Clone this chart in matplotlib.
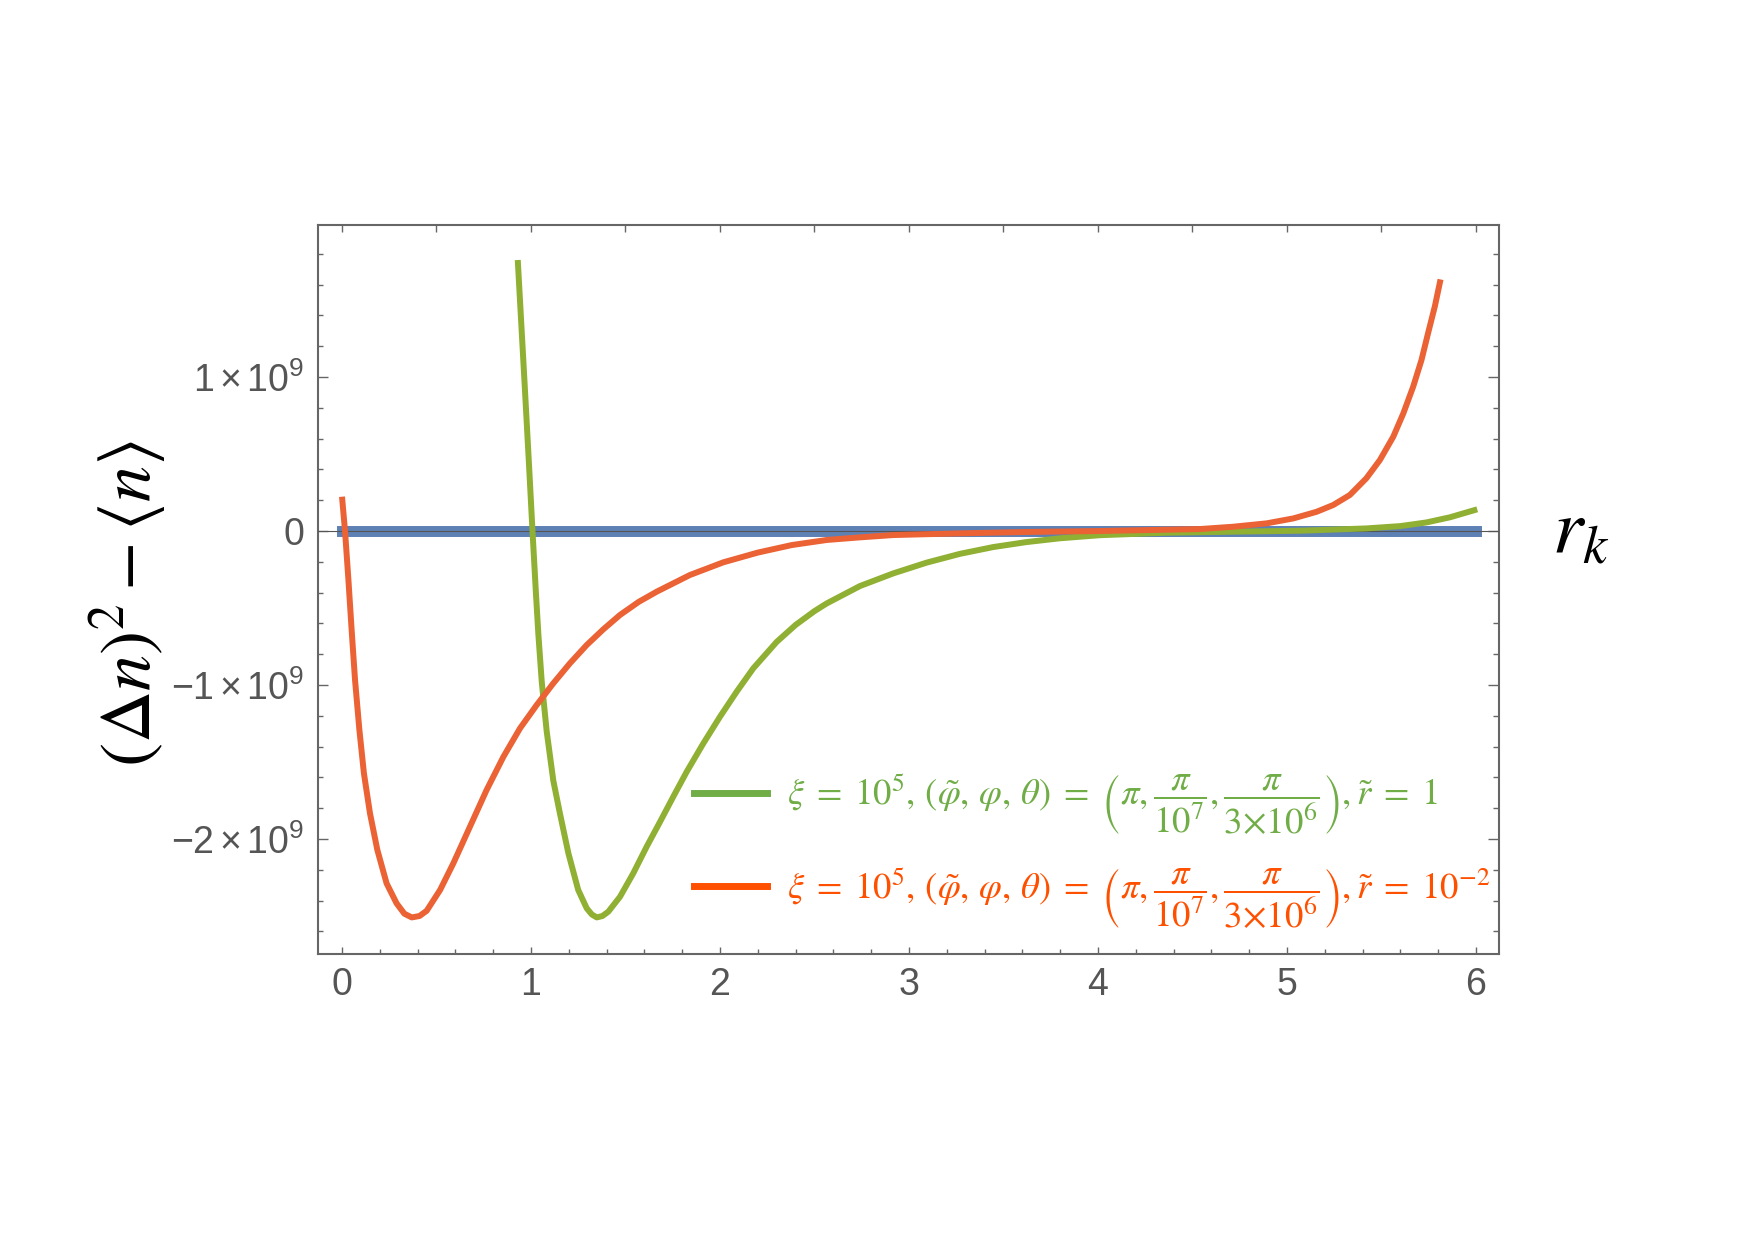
import numpy as np
import matplotlib
matplotlib.use("Agg")
import matplotlib.pyplot as plt
from matplotlib.lines import Line2D
from matplotlib.ticker import MultipleLocator, FixedLocator, FixedFormatter

plt.rcParams["mathtext.fontset"] = "stix"

# values, y in units of 1e9
zero_r = [0.0, 6.0]
zero_v = [0.0, 0.0]

green_r = [0.930, 0.967, 0.990, 1.008, 1.026, 1.039, 1.057, 1.083, 1.118, 1.153,
           1.198, 1.250, 1.295, 1.322, 1.348, 1.378, 1.409, 1.471, 1.541, 1.612,
           1.683, 1.753, 1.824, 1.912, 2.000, 2.088, 2.176, 2.300, 2.400, 2.500,
           2.565, 2.741, 2.917, 3.094, 3.270, 3.446, 3.620, 3.799, 4.010, 4.363,
           4.716, 5.069, 5.420, 5.600, 5.739, 5.862, 6.007]
green_v = [1.76, 0.94, 0.42, 0.0, -0.40, -0.67, -0.98, -1.30, -1.62, -1.833,
           -2.093, -2.331, -2.45, -2.49, -2.509, -2.50, -2.472, -2.375, -2.223, -2.05,
           -1.888, -1.725, -1.563, -1.379, -1.206, -1.044, -0.892, -0.72, -0.61, -0.52,
           -0.47, -0.357, -0.275, -0.205, -0.148, -0.104, -0.072, -0.047, -0.027, -0.011,
           -0.004, 0.002, 0.017, 0.032, 0.056, 0.089, 0.141]

orange_r = [0.000, 0.016, 0.034, 0.051, 0.069, 0.092, 0.116, 0.148, 0.187, 0.236,
            0.289, 0.330, 0.369, 0.410, 0.448, 0.519, 0.589, 0.677, 0.765, 0.854,
            0.942, 1.030, 1.118, 1.206, 1.295, 1.383, 1.471, 1.570, 1.665, 1.840,
            2.018, 2.200, 2.380, 2.565, 2.741, 2.917, 3.270, 3.620, 4.000, 4.540,
            4.716, 4.893, 5.034, 5.157, 5.245, 5.333, 5.420, 5.492, 5.563, 5.616,
            5.668, 5.712, 5.748, 5.783, 5.813]
orange_v = [0.223, 0.0, -0.318, -0.643, -0.968, -1.292, -1.574, -1.833, -2.071, -2.288,
            -2.418, -2.485, -2.509, -2.50, -2.466, -2.331, -2.158, -1.92, -1.682, -1.466,
            -1.281, -1.13, -0.989, -0.859, -0.74, -0.638, -0.545, -0.46, -0.394, -0.286,
            -0.203, -0.14, -0.091, -0.058, -0.041, -0.026, -0.015, -0.006, 0.0, 0.013,
            0.028, 0.05, 0.082, 0.125, 0.169, 0.234, 0.342, 0.461, 0.613, 0.764,
            0.937, 1.11, 1.29, 1.46, 1.634]

y_ticks = [-2e9, -1e9, 0, 1e9]
y_labels = [r"$\mathdefault{-2\times10^{9}}$", r"$\mathdefault{-1\times10^{9}}$",
            r"$\mathdefault{0}$", r"$\mathdefault{1\times10^{9}}$"]
x_ticks = [0, 1, 2, 3, 4, 5, 6]

lab_green = (r"$\xi\;=\;10^5,\,(\tilde{\varphi},\,\varphi,\,\theta)\;=\;\left(\pi,\dfrac{\pi}{10^7},"
             r"\dfrac{\pi}{3{\times}10^6}\right),\tilde{r}\;=\;1$")
lab_orange = (r"$\xi\;=\;10^5,\,(\tilde{\varphi},\,\varphi,\,\theta)\;=\;\left(\pi,\dfrac{\pi}{10^7},"
              r"\dfrac{\pi}{3{\times}10^6}\right),\tilde{r}\;=\;10^{-2}$")

gray = "#666666"
c_blue = "#5e81b5"
c_green = "#8fb032"
c_orange = "#eb6235"

fig = plt.figure(figsize=(17.55, 12.4), dpi=100)
ax = fig.add_axes([0.1812, 0.2306, 0.6729, 0.5879])

ax.plot(zero_r, np.array(zero_v) * 1e9, color=c_blue, lw=7.9,
        solid_capstyle="projecting", zorder=2)
ax.axhline(0, color="#555555", lw=0.8, zorder=3)
ax.plot(green_r, np.array(green_v) * 1e9, color=c_green, lw=4.3,
        solid_capstyle="butt", solid_joinstyle="round", zorder=4)
ax.plot(orange_r, np.array(orange_v) * 1e9, color=c_orange, lw=4.3,
        solid_capstyle="butt", solid_joinstyle="round", zorder=5)

ax.set_xlim(-0.127, 6.122)
ax.set_ylim(-2.747e9, 1.987e9)

for s in ax.spines.values():
    s.set_color(gray)
    s.set_linewidth(1.5)

ax.xaxis.set_major_locator(FixedLocator(x_ticks))
ax.xaxis.set_minor_locator(MultipleLocator(0.2))
ax.yaxis.set_major_locator(FixedLocator(y_ticks))
ax.yaxis.set_major_formatter(FixedFormatter(y_labels))
ax.yaxis.set_minor_locator(MultipleLocator(0.2e9))
ax.tick_params(which="both", direction="in", color=gray, width=1.0,
               labelcolor="#555555", labelsize=27)
ax.tick_params(axis="x", which="major", length=5, pad=9)
ax.tick_params(axis="x", which="minor", length=3.5)
ax.tick_params(axis="y", which="major", length=7, pad=10)
ax.tick_params(axis="y", which="minor", length=3.5)
for t in ax.get_xticklabels() + ax.get_yticklabels():
    t.set_fontfamily("Liberation Sans")

top = ax.secondary_xaxis("top")
top.xaxis.set_major_locator(MultipleLocator(0.5))
top.tick_params(direction="in", length=5, color=gray, width=1.0, labeltop=False)
top.spines["top"].set_visible(False)

right = ax.secondary_yaxis("right")
right.yaxis.set_major_locator(MultipleLocator(1e9))
right.yaxis.set_minor_locator(MultipleLocator(0.2e9))
right.tick_params(which="major", direction="in", length=8, color=gray, width=1.0,
                  labelright=False)
right.tick_params(which="minor", direction="in", length=4.5, color=gray, width=1.0)
right.spines["right"].set_visible(False)

handles = [Line2D([], [], color="#70ad47", lw=5),
           Line2D([], [], color="#ff5000", lw=5)]
ax.legend(handles, [lab_green, lab_orange], loc="center left",
          bbox_to_anchor=(0.318, 0.14), frameon=False, fontsize=26.5,
          handlelength=2.0, handletextpad=0.55, labelspacing=0.8,
          borderpad=0, borderaxespad=0, labelcolor=["#70ad47", "#ff5000"])

fig.text(128 / 1755, 1 - 604 / 1240, r"$(\Delta n)^2-\langle n\rangle$",
         rotation=90, ha="center", va="center", fontsize=52, color="black")
fig.text(1581 / 1755, 1 - 531 / 1240, r"$r_k$", ha="center", va="center",
         fontsize=56, color="black")

fig.savefig("out.png", dpi=100)
